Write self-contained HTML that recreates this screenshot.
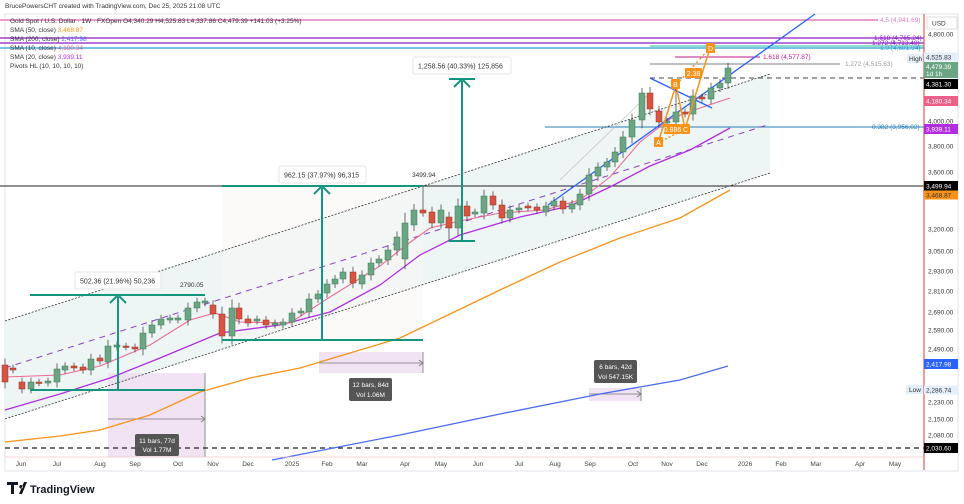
<!DOCTYPE html>
<html><head><meta charset="utf-8"><style>
html,body{margin:0;padding:0;background:#fff;width:964px;height:504px;overflow:hidden}
svg{display:block;font-family:"Liberation Sans",sans-serif}
</style></head><body>
<svg id="s" width="964" height="504" viewBox="0 0 964 504" xmlns="http://www.w3.org/2000/svg">
<rect x="5" y="14" width="953" height="457" fill="#fff" stroke="#e0e3eb"/>
<!-- channel fill -->
<polygon points="5,321 770,74 770,173 5,419" fill="#eef5f5"/>
<rect x="222" y="186" width="201" height="154" fill="#f9f7f5" opacity="0.6"/>
<!-- range boxes -->
<rect x="108" y="373" width="97" height="84" fill="#eddcf0" opacity="0.8"/>
<rect x="319" y="352" width="104" height="21" fill="#eddcf0" opacity="0.8"/>
<rect x="589" y="388" width="52" height="13" fill="#eddcf0" opacity="0.8"/>
<g stroke="#777" stroke-width="0.8" fill="none">
<line x1="108" y1="419" x2="205" y2="419"/><path d="M201,416 L205,419 L201,422"/>
<line x1="319" y1="363" x2="423" y2="363"/><path d="M419,360 L423,363 L419,366"/>
<line x1="589" y1="394" x2="641" y2="394"/><path d="M637,391 L641,394 L637,397"/>
<line x1="205" y1="373" x2="205" y2="457"/><line x1="423" y1="352" x2="423" y2="373"/><line x1="641" y1="388" x2="641" y2="401"/>
</g>
<!-- horizontal levels -->
<line x1="0" y1="186" x2="924" y2="186" stroke="#222" stroke-width="1"/>
<line x1="5" y1="448" x2="924" y2="448" stroke="#222" stroke-width="1.2" stroke-dasharray="5,4"/>
<line x1="650" y1="78" x2="924" y2="78" stroke="#444" stroke-width="1" stroke-dasharray="5,4"/>
<line x1="545" y1="127" x2="924" y2="127" stroke="#2a7fb5" stroke-width="1"/>
<line x1="0" y1="20" x2="878" y2="20" stroke="#e07bbf" stroke-width="1.5"/>
<line x1="0" y1="38" x2="924" y2="38" stroke="#8a1fc4" stroke-width="1.2"/>
<line x1="0" y1="43" x2="924" y2="43" stroke="#8a1fc4" stroke-width="1.2"/>
<line x1="0" y1="48" x2="924" y2="48" stroke="#2a9fd6" stroke-width="1.2"/>
<line x1="650" y1="46" x2="924" y2="46" stroke="#1fbf9a" stroke-width="1"/>
<line x1="675" y1="57" x2="760" y2="57" stroke="#c2188b" stroke-width="1"/>
<line x1="650" y1="64" x2="840" y2="64" stroke="#aaa" stroke-width="1.5"/>
<!-- channel lines -->
<line x1="5" y1="321" x2="770" y2="74" stroke="#333" stroke-width="0.8" stroke-dasharray="2,1.5"/>
<line x1="5" y1="419" x2="770" y2="173" stroke="#333" stroke-width="0.8" stroke-dasharray="2,1.5"/>
<line x1="5" y1="368" x2="767" y2="125" stroke="#8a3fc4" stroke-width="1" stroke-dasharray="6,5"/>
<line x1="560" y1="180" x2="650" y2="93" stroke="#bbb" stroke-width="0.6"/>
<!-- MAs -->
<polyline fill="none" stroke="#4a6cf0" stroke-width="1.3" points="272,460 400,435 500,414 600,394 680,380 728,366"/>
<polyline fill="none" stroke="#f7931a" stroke-width="1.3" points="5,442 60,436 100,430 150,415 200,392 250,378 300,368 350,353 400,338 450,314 500,290 560,262 620,238 680,218 730,190"/>
<polyline fill="none" stroke="#b02ee0" stroke-width="1.3" points="5,410 60,394 110,378 160,358 220,333 280,325 330,312 380,285 420,255 460,235 520,217 570,206 610,187 650,166 690,150 730,128"/>
<polyline fill="none" stroke="#ec6b94" stroke-width="1.1" points="5,377 60,375 100,366 150,345 190,320 215,313 240,322 290,323 330,297 380,266 405,246 430,228 460,221 500,213 545,210 580,200 610,177 640,142 670,119 700,108 730,98"/>
<!-- blue trendlines -->
<line x1="548" y1="205" x2="815" y2="14" stroke="#2962ff" stroke-width="1.3"/>
<line x1="650" y1="78" x2="712" y2="108" stroke="#2962ff" stroke-width="1.3"/>
<g id="c"></g>
<!-- measurement -->
<g stroke="#14957f" stroke-width="2" fill="none">
<line x1="30" y1="295" x2="205" y2="295"/><line x1="30" y1="390" x2="205" y2="390"/><line x1="118" y1="390" x2="118" y2="297"/><path d="M110,303 L118,295 L126,303"/>
<line x1="222" y1="186" x2="423" y2="186"/><line x1="222" y1="340" x2="423" y2="340"/><line x1="322" y1="340" x2="322" y2="188"/><path d="M314,194 L322,186 L330,194"/>
<line x1="449" y1="79" x2="475" y2="79"/><line x1="449" y1="241" x2="475" y2="241"/><line x1="462" y1="241" x2="462" y2="81"/><path d="M454,87 L462,79 L470,87"/>
</g>
<!-- XABCD -->
<g stroke="#f7931a" stroke-width="1.5" fill="none">
<polyline points="658,143 676,85 685,129 710,48"/>
<line x1="658" y1="143" x2="685" y2="129" stroke-dasharray="2,2"/>
<line x1="676" y1="85" x2="710" y2="48" stroke-dasharray="2,3"/>
</g>
<g font-size="7" fill="#fff" text-anchor="middle">
<rect x="654" y="137" width="9" height="10" rx="1" fill="#f7931a"/><text x="658.5" y="145">A</text>
<rect x="671" y="79" width="9" height="10" rx="1" fill="#f7931a"/><text x="675.5" y="87">B</text>
<rect x="681" y="124" width="9" height="10" rx="1" fill="#f7931a"/><text x="685.5" y="132">C</text>
<rect x="706" y="43" width="9" height="10" rx="1" fill="#f7931a"/><text x="710.5" y="51">D</text>
<rect x="664" y="124" width="17" height="10" rx="1" fill="#f7931a"/><text x="672.5" y="132">0.886</text>
<rect x="685" y="68" width="17" height="10" rx="1" fill="#f7931a"/><text x="693.5" y="76">2.38</text>
</g>
<!-- labels -->
<g font-size="7" fill="#333">
<rect x="75" y="272" width="86" height="17" rx="2" fill="#fff" stroke="#e5e5e5"/><text x="80" y="283.5">502.36 (21.96%) 50,236</text>
<rect x="279" y="166" width="87" height="17" rx="2" fill="#fff" stroke="#e5e5e5"/><text x="284" y="177.5">962.15 (37.97%) 96,315</text>
<rect x="413" y="57" width="98" height="17" rx="2" fill="#fff" stroke="#e5e5e5"/><text x="418" y="68.5">1,258.56 (40.33%) 125,856</text>
<text x="180" y="287" font-size="6.5">2790.05</text>
<text x="412" y="177" font-size="6.5">3499.94</text>
</g>
<g font-size="6.5" fill="#fff" text-anchor="middle">
<rect x="135" y="434" width="44" height="22" rx="2" fill="#555"/><text x="157" y="443">11 bars, 77d</text><text x="157" y="452">Vol 1.77M</text>
<rect x="349" y="378" width="43" height="23" rx="2" fill="#555"/><text x="370.5" y="387">12 bars, 84d</text><text x="370.5" y="397">Vol 1.06M</text>
<rect x="594" y="360" width="43" height="23" rx="2" fill="#555"/><text x="615.5" y="369">6 bars, 42d</text><text x="615.5" y="379">Vol 547.15K</text>
</g>
<g font-size="6.5">
<text x="880" y="22" fill="#e07bbf">4.5 (4,941.69)</text>
<text x="874" y="40" fill="#8a1fc4">1.618 (4,765.24)</text>
<text x="872" y="45" fill="#8a1fc4">1.272 (4,713.48)</text>
<text x="880" y="50" fill="#2a9fd6">1.0 (4,601.94)</text>
<text x="763" y="59" fill="#c2188b">1.618 (4,577.87)</text>
<text x="845" y="66" fill="#999">1.272 (4,515.63)</text>
<text x="872" y="129" fill="#2a7fb5">0.382 (3,956.02)</text>
<rect x="907" y="54" width="17" height="9" fill="#e3effa"/><text x="909" y="61" fill="#333">High</text>
<rect x="906" y="385" width="18" height="9" fill="#e3effa"/><text x="909" y="392" fill="#333">Low</text>
</g>
<!-- right axis -->
<line x1="924" y1="14" x2="924" y2="470" stroke="#e53935" stroke-width="1"/>
<g font-size="6.5" fill="#333" id="ax"></g>
<!-- legend -->
<g font-size="6.5" fill="#333">
<text x="5" y="8">BrucePowersCHT created with TradingView.com, Dec 25, 2025 21:08 UTC</text>
<text x="10" y="23">Gold Spot / U.S. Dollar · 1W · FXOpen  O4,340.29 H4,525.83 L4,337.86 C4,479.39 +141.03 (+3.25%)</text>
<text x="10" y="32">SMA (50, close) <tspan fill="#f7931a">3,468.87</tspan></text>
<text x="10" y="41">SMA (200, close) <tspan fill="#4a6cf0">2,417.98</tspan></text>
<text x="10" y="50">SMA (10, close) <tspan fill="#ec6b94">4,180.34</tspan></text>
<text x="10" y="59">SMA (20, close) <tspan fill="#b02ee0">3,939.11</tspan></text>
<text x="10" y="68">Pivots HL (10, 10, 10, 10)</text>
</g>
<line x1="5" y1="457" x2="924" y2="457" stroke="#f4c7c7" stroke-width="0.8"/>
<g font-size="6.5" fill="#444" text-anchor="middle" id="tx"></g>
<!-- footer -->
<g>
<path d="M7,482 h11 v3 h-4 v9 h-3 v-9 h-4z M19,494 l5,-12 h3 l-5,12z M21,485 a1.8,1.8 0 1,0 0.1,0" fill="#131722"/>
<text x="30" y="493" font-size="11" font-weight="bold" fill="#131722">TradingView</text>
</g>
</svg>
<script>
var NS="http://www.w3.org/2000/svg";
function el(p,t,a,txt){var e=document.createElementNS(NS,t);for(var k in a)e.setAttribute(k,a[k]);if(txt)e.textContent=txt;p.appendChild(e);return e;}
// [x, top, bottom, up?]
var C=[[5,365,382,0],[13,368,370,0],[22,382,389,0],[31,382,389,1],[39,382,383,0],[48,381,383,1],[57,369,382,1],[65,366,370,1],[74,366,368,0],[83,367,370,0],[91,359,370,1],[100,358,361,0],[108,346,362,1],[117,345,347,1],[126,346,347,0],[135,347,349,0],[143,333,349,1],[152,325,333,1],[161,319,325,1],[170,318,320,1],[178,318,320,1],[188,308,320,1],[197,302,308,1],[205,301,303,1],[213,305,314,0],[222,314,336,0],[232,308,336,1],[239,308,319,0],[248,319,323,0],[257,319,321,1],[266,320,325,0],[275,323,325,1],[283,322,325,1],[292,313,322,1],[301,311,313,1],[309,299,312,1],[318,294,299,1],[327,284,293,1],[335,279,284,1],[343,272,279,1],[353,272,283,0],[362,275,284,1],[371,263,275,1],[379,259,263,1],[388,250,260,1],[397,237,250,1],[405,223,259,1],[414,210,225,1],[423,210,213,0],[432,212,223,0],[441,210,223,1],[449,217,228,0],[458,206,228,1],[467,206,216,0],[475,212,214,1],[484,196,213,1],[493,196,205,0],[502,205,218,0],[510,210,218,1],[519,208,210,1],[528,206,208,0],[537,207,210,0],[546,206,212,1],[554,201,206,1],[563,201,209,0],[572,204,209,1],[580,194,205,1],[589,175,194,1],[598,167,176,1],[607,162,167,1],[615,152,162,1],[623,137,152,1],[632,120,137,1],[642,93,120,1],[650,93,109,0],[659,111,122,0],[667,121,123,1],[676,112,122,1],[685,112,114,0],[693,96,114,1],[702,97,99,0],[711,88,99,1],[720,83,88,1],[728,68,83,1]];
var g=document.getElementById("c");
C.forEach(function(c){var col=c[3]?"#6ba583":"#d75442",st=c[3]?"#3d7a55":"#9c3020";
 var hi=c[1]-3-(c[2]-c[1])*0.2, lo=c[2]+3+(c[2]-c[1])*0.2;
 if(c[0]==423)hi=186; if(c[0]==642)hi=88; if(c[0]==728)hi=63; if(c[0]==676)hi=85; if(c[0]==449)lo=241;
 el(g,"line",{x1:c[0],x2:c[0],y1:hi,y2:lo,stroke:"#333","stroke-width":0.7});
 el(g,"rect",{x:c[0]-3,y:c[1],width:6,height:Math.max(1.5,c[2]-c[1]),fill:col,stroke:st,"stroke-width":0.5});});
var ax=document.getElementById("ax");
[["4,800.00",34],["4,000.00",121],["3,800.00",146],["3,600.00",172],["3,200.00",229],["3,050.00",251],["2,930.00",271],["2,810.00",291],["2,690.00",312],["2,590.00",330],["2,490.00",349],["2,230.00",402],["2,150.00",419],["2,080.00",435]].forEach(function(a){el(ax,"text",{x:928,y:a[1]+2.5},a[0]);});
el(ax,"rect",{x:927,y:17,width:30,height:12,fill:"#fff",stroke:"#ddd"});el(ax,"text",{x:932,y:25.5},"USD");
[["4,525.83",57,"#e3effa","#333",9],["4,381.30",84,"#000","#fff",10],["4,180.34",101,"#ec5f86","#fff",10],["3,939.11",129,"#b02ee0","#fff",10],["3,499.94",186,"#000","#fff",10],["3,468.87",195,"#f7931a","#333",9],["2,417.98",364,"#2962ff","#fff",10],["2,286.74",390,"#e3effa","#333",9],["2,030.60",448,"#000","#fff",10]].forEach(function(a){el(ax,"rect",{x:924,y:a[1]-a[4]/2,width:34,height:a[4],fill:a[2]});el(ax,"text",{x:926,y:a[1]+2.5,fill:a[3]},a[0]);});
el(ax,"rect",{x:924,y:62,width:34,height:16,fill:"#6ba583"});el(ax,"text",{x:926,y:69,fill:"#fff"},"4,479.39");el(ax,"text",{x:926,y:76,fill:"#fff"},"1d 1h");
var tx=document.getElementById("tx");
[["Jun",21],["Jul",57],["Aug",100],["Sep",135],["Oct",178],["Nov",213],["Dec",248],["2025",292],["Feb",327],["Mar",362],["Apr",405],["May",441],["Jun",478],["Jul",519],["Aug",555],["Sep",590],["Oct",633],["Nov",667],["Dec",702],["2026",745],["Feb",781],["Mar",816],["Apr",860],["May",895]].forEach(function(a){el(tx,"text",{x:a[1],y:466},a[0]);});
</script>
</body></html>
